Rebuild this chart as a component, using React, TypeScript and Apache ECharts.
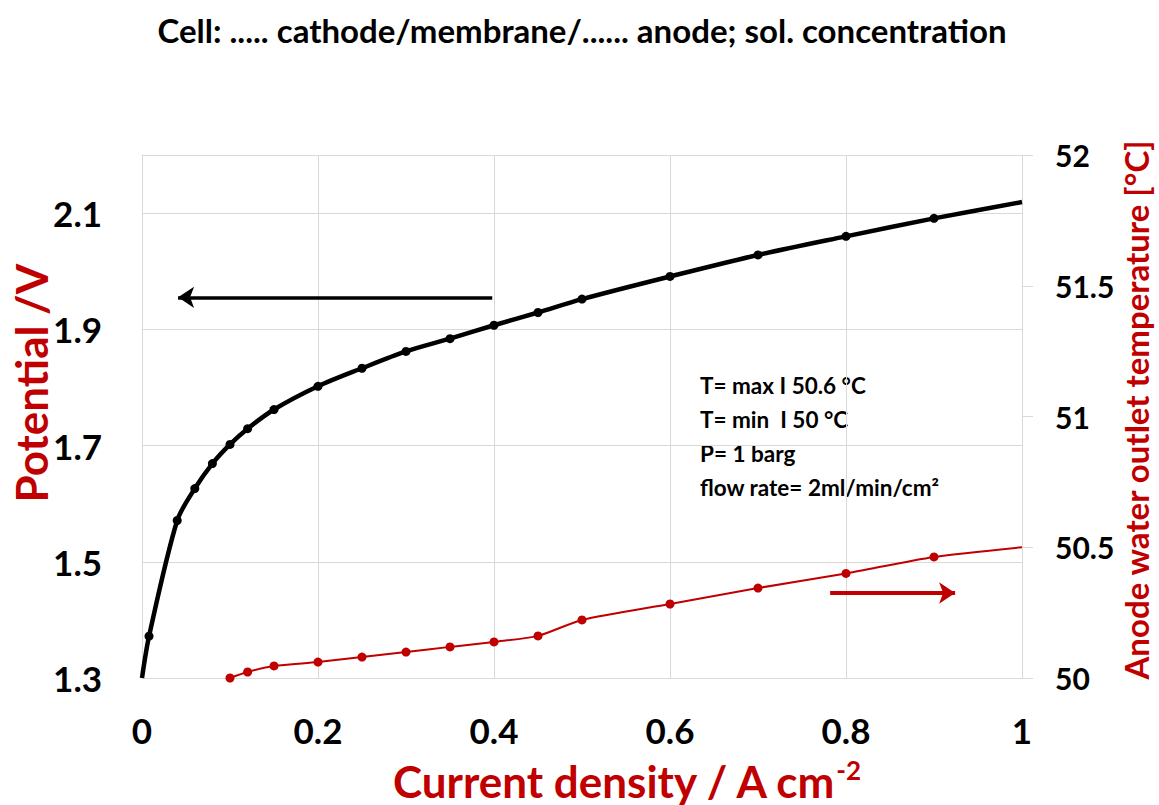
import React, { useEffect, useRef } from "react";
import * as echarts from "echarts";

const currentDensity = [0, 0.008, 0.04, 0.06, 0.08, 0.1, 0.12, 0.15, 0.2, 0.25, 0.3, 0.35, 0.4, 0.45, 0.5, 0.6, 0.7, 0.8, 0.9, 1.0];
const potential = [1.3, 1.372, 1.571, 1.626, 1.669, 1.702, 1.729, 1.762, 1.802, 1.833, 1.862, 1.884, 1.907, 1.929, 1.952, 1.991, 2.028, 2.06, 2.091, 2.119];
const potentialMarked = [false, true, true, true, true, true, true, true, true, true, true, true, true, true, true, true, true, true, true, false];

const tempDensity = [0.1, 0.12, 0.15, 0.2, 0.25, 0.3, 0.35, 0.4, 0.45, 0.5, 0.6, 0.7, 0.8, 0.9, 1.0];
const temperature = [50, 50.023, 50.046, 50.061, 50.08, 50.099, 50.119, 50.138, 50.161, 50.222, 50.283, 50.344, 50.4, 50.463, 50.5];
const tempMarked = [true, true, true, true, true, true, true, true, true, true, true, true, true, true, false];

const xTicks = [0, 0.2, 0.4, 0.6, 0.8, 1];
const leftTicks = [1.3, 1.5, 1.7, 1.9, 2.1];
const rightTicks = [50, 50.5, 51, 51.5, 52];

const titleText = "Cell: ..... cathode/membrane/...... anode; sol. concentration";
const noteLines = ["T= max I 50.6 °C", "T= min  I 50 °C", "P= 1 barg", "flow rate= 2ml/min/cm²"];

const RED = "#C00000";
const GRID = "#d9d9d9";
const FONT = "Lato";

export default function App() {
  const ref = useRef<HTMLDivElement>(null);
  useEffect(() => {
    if (!ref.current) return;
    const chart = echarts.init(ref.current, undefined, { renderer: "svg" });
    const potData = currentDensity.map((x, i) =>
      potentialMarked[i] ? [x, potential[i]] : { value: [x, potential[i]], symbol: "none" }
    );
    const tempData = tempDensity.map((x, i) =>
      tempMarked[i] ? [x, temperature[i]] : { value: [x, temperature[i]], symbol: "none" }
    );
    chart.setOption({
      animation: false,
      backgroundColor: "#ffffff",
      textStyle: { fontFamily: FONT },
      grid: { left: 142, right: 137, top: 155, bottom: 127, containLabel: false },
      xAxis: {
        type: "value",
        min: 0,
        max: 1,
        interval: 0.2,
        axisLine: { show: true, lineStyle: { color: GRID, width: 1 } },
        axisTick: { show: false },
        splitLine: { show: true, lineStyle: { color: GRID, width: 1 } },
        axisLabel: {
          color: "#000",
          fontSize: 35,
          fontWeight: "bold",
          fontFamily: FONT,
          margin: 34,
          formatter: (v: number) => (xTicks.some((t) => Math.abs(t - v) < 1e-9) ? String(Math.round(v * 10) / 10) : ""),
        },
      },
      yAxis: [
        {
          type: "value",
          min: 1.3,
          max: 2.2,
          interval: 0.2,
          axisLine: { show: true, lineStyle: { color: GRID, width: 1 } },
          axisTick: { show: false },
          splitLine: { show: true, lineStyle: { color: GRID, width: 1 } },
          axisLabel: {
            color: "#000",
            fontSize: 35,
            fontWeight: "bold",
            fontFamily: FONT,
            margin: 40,
            formatter: (v: number) => {
              const t = leftTicks.find((k) => Math.abs(k - v) < 1e-6);
              return t === undefined ? "" : t.toFixed(1);
            },
          },
        },
        {
          type: "value",
          position: "right",
          min: 50,
          max: 52,
          interval: 0.5,
          axisLine: { show: true, lineStyle: { color: GRID, width: 1 } },
          axisTick: { show: true, length: 11, inside: false, lineStyle: { color: GRID } },
          splitLine: { show: false },
          axisLabel: {
            color: "#000",
            fontSize: 30,
            fontWeight: "bold",
            fontFamily: FONT,
            margin: 33,
            formatter: (v: number) => {
              const t = rightTicks.find((k) => Math.abs(k - v) < 1e-6);
              return t === undefined ? "" : String(t);
            },
          },
        },
      ],
      series: [
        {
          type: "line",
          name: "Potential",
          yAxisIndex: 0,
          data: potData,
          smooth: 0.3,
          symbol: "circle",
          symbolSize: 9,
          lineStyle: { color: "#000", width: 4.5 },
          itemStyle: { color: "#000" },
          z: 3,
          markLine: {
            silent: true,
            animation: false,
            symbol: ["none", "arrow"],
            symbolSize: 16,
            label: { show: false },
            lineStyle: { color: "#000", width: 3.5, type: "solid" },
            data: [[{ coord: [0.398, 1.955] }, { coord: [0.041, 1.955] }]],
          },
        },
        {
          type: "line",
          name: "Temperature",
          yAxisIndex: 1,
          data: tempData,
          smooth: 0.25,
          symbol: "circle",
          symbolSize: 9,
          lineStyle: { color: RED, width: 2 },
          itemStyle: { color: RED },
          z: 2,
          markLine: {
            silent: true,
            animation: false,
            symbol: ["none", "arrow"],
            symbolSize: 16,
            label: { show: false },
            lineStyle: { color: RED, width: 4, type: "solid" },
            data: [[{ coord: [0.782, 50.325] }, { coord: [0.924, 50.325] }]],
          },
        },
      ],
      graphic: [
        {
          type: "text",
          x: 582,
          y: 30,
          style: { text: titleText, fontFamily: FONT, fontSize: 33, fontWeight: "bold", fill: "#000", align: "center", verticalAlign: "middle" },
        },
        {
          type: "text",
          x: 31,
          y: 383,
          rotation: Math.PI / 2,
          style: { text: "Potential /V", fontFamily: FONT, fontSize: 44, fontWeight: "bold", fill: RED, align: "center", verticalAlign: "middle" },
        },
        {
          type: "text",
          x: 1136,
          y: 410,
          rotation: Math.PI / 2,
          style: { text: "Anode water outlet temperature [°C]", fontFamily: FONT, fontSize: 33, fontWeight: "bold", fill: RED, align: "center", verticalAlign: "middle" },
        },
        {
          type: "text",
          x: 626,
          y: 781,
          style: {
            text: "Current density / A cm{sup|-2}",
            fontFamily: FONT,
            fontSize: 44,
            fontWeight: "bold",
            fill: RED,
            align: "center",
            verticalAlign: "middle",
            rich: { sup: { fontSize: 26, fontFamily: FONT, fontWeight: "bold", fill: RED, verticalAlign: "top", lineHeight: 48 } },
          },
        },
        ...noteLines.map((t, i) => ({
          type: "text",
          x: 700,
          y: 385 + i * 34,
          style: { text: t, fontFamily: FONT, fontSize: 22.5, fontWeight: "bold", fill: "#000", align: "left", verticalAlign: "middle" },
        })),
      ],
    });
    return () => chart.dispose();
  }, []);
  return <div ref={ref} style={{ width: 1159, height: 805, position: "absolute", left: 0, top: 0 }} />;
}
